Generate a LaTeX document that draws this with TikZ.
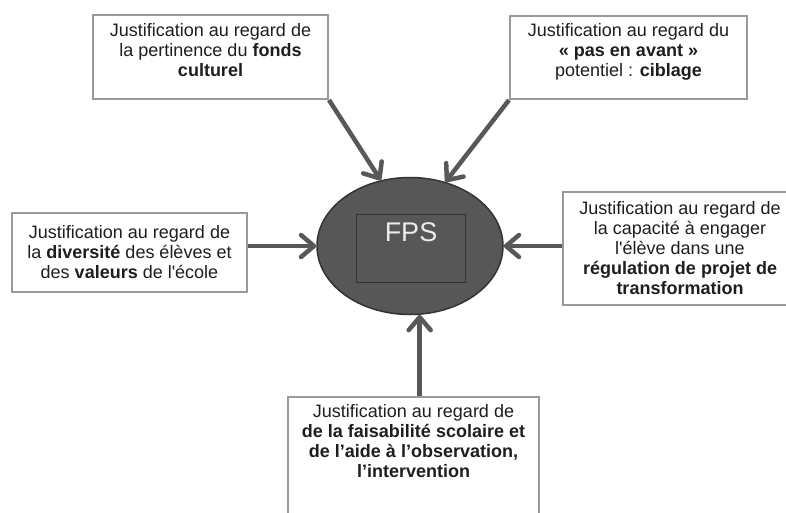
\documentclass[tikz,border=0pt]{standalone}
\usepackage{fontspec}
\setmainfont{Liberation Sans}
\usetikzlibrary{shapes.geometric,arrows.meta}
\definecolor{arrgray}{HTML}{585858}
\definecolor{boxgray}{HTML}{9A9A9A}
\definecolor{ellfill}{HTML}{575757}
\definecolor{elledge}{HTML}{333333}
\definecolor{txt}{HTML}{1E1E1E}
\newcommand{\jtop}[4]{\parbox[c][#2][t]{#1}{\centering\vspace*{#3}#4\par}}
\newcommand{\jmid}[3]{\parbox[c][#2][c]{#1}{\centering #3\par}}
\begin{document}
\begin{tikzpicture}[x=1pt,y=-1pt,
  jbox/.style={draw=boxgray, line width=2pt, fill=white, inner sep=0pt, text=txt,
    font=\fontsize{18}{20}\selectfont},
  arr/.style={draw=arrgray, line width=4.5pt, -{Straight Barb[length=13pt,width=22pt,round]}},
  fpsell/.style={ellipse, draw=elledge, line width=1.5pt, fill=ellfill,
    minimum width=186pt, minimum height=137pt, inner sep=0pt},
  fpsrect/.style={draw=elledge, line width=1pt, minimum width=109pt, minimum height=68pt, inner sep=0pt},
  fpstext/.style={text=white!92!black, font=\fontsize{27}{30}\selectfont, inner sep=0pt}]
\useasboundingbox (0,0) rectangle (786,512);
% boxes
\node[jbox] (tl) at (210.5,57) {\jtop{235pt}{84pt}{8pt}{Justification au regard de\\la pertinence du \textbf{fonds}\\\textbf{culturel}}};
\node[jbox] (tr) at (628.5,57.5) {\jtop{237pt}{83pt}{7pt}{Justification au regard du\\\textbf{« pas en avant »}\\potentiel : \textbf{ciblage}}};
\node[jbox] (lb) at (129.5,252.5) {\jmid{235pt}{79pt}{Justification au regard de\\la \textbf{diversité} des élèves et\\des \textbf{valeurs} de l\textquotesingle école}};
\node[jbox] (rb) at (680,248.5) {\jmid{234pt}{113pt}{Justification au regard de\\la capacité à engager\\l\textquotesingle élève dans une\\\textbf{régulation de projet de}\\\textbf{transformation}}};
\node[jbox] (bb) at (413.5,462) {\jtop{251pt}{130pt}{7pt}{Justification au regard de\\\textbf{de la faisabilité scolaire et}\\\textbf{de l’aide à l’observation,}\\\textbf{l’intervention}}};
% central element
\node[fpsell] (fps) at (410,246) {};
\node[fpsrect] (fr) at (410.5,248) {};
\node[fpstext] (ft) at (411,232) {FPS};
% arrows
\draw[arr] (tl.south east) -- (fps.114);
\draw[arr] (tr.south west) -- (fps.61);
\draw[arr] (lb.east |- fps.west) -- (fps.west);
\draw[arr] (rb.west |- fps.east) -- (fps.east);
\draw[arr] (bb.north -| fps.-82) -- (fps.-82);
\end{tikzpicture}
\end{document}
